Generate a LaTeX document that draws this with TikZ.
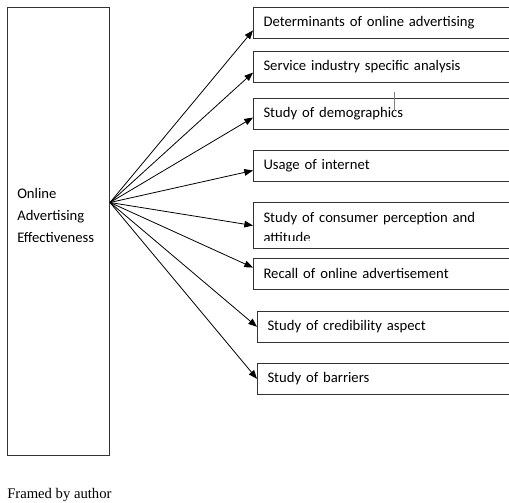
\documentclass[tikz,border=0pt]{standalone}
\usepackage{fontspec}
\setmainfont{Carlito}
\newfontfamily\timesfont{Liberation Serif}
\usepackage{tikz}
\usetikzlibrary{calc,shapes,arrows,arrows.meta}

\tikzset{
	factor/.style={draw=black!80, line width=0.75pt, anchor=north west, minimum width=240pt, minimum height=23pt, inner xsep=7.5pt, text width=225pt, align=left, font=\fontsize{11}{15}\selectfont}
}

\begin{document}
\begin{tikzpicture}[x=0.75pt, y=-0.75pt, >={Triangle[length=6.5pt, width=5pt]}]
		\useasboundingbox (0, 0) rectangle (509, 502);

		\draw (7, 7) node[draw=black!80, line width=0.75pt, anchor=north west, minimum width=76.5pt, minimum height=336pt] (e) {};
		\draw (17, 215) node[anchor=west, align=left, inner sep=0pt, font=\fontsize{11}{16.5}\selectfont] (lbl) {Online\\Advertising\\Effectiveness};
		\coordinate (hub) at ([yshift=21.75pt]e.east);

		\draw (253, 7) node[factor] (f1) {Determinants of online advertising};
		\draw (253, 51) node[factor] (f2) {Service industry specific analysis};
		\draw (253, 98) node[factor] (f3) {Study of demographics};
		\draw (253, 150) node[factor] (f4) {Usage of internet};
		\draw (253, 202) node[factor, minimum height=34.5pt, text height=10.5pt] (f5) {Study of consumer perception and\\attitude};
		\draw (253, 258) node[factor] (f6) {Recall of online advertisement};
		\draw (257, 311) node[factor] (f7) {Study of credibility aspect};
		\draw (257, 363) node[factor] (f8) {Study of barriers};
		\fill[white] ([xshift=0.5pt, yshift=0.5pt]f5.south west) rectangle ([yshift=6pt]f5.south east);
		\draw[black!50, line width=0.75pt] (394, 92) -- (394, 111);

		\draw[->, line width=0.6pt] (hub) -- ([yshift=-5.7pt]f1.west);
		\draw[->, line width=0.6pt] (hub) -- ([yshift=-4.3pt]f2.west);
		\draw[->, line width=0.6pt] (hub) -- ([yshift=-2.8pt]f3.west);
		\draw[->, line width=0.6pt] (hub) -- ([yshift=-3.5pt]f4.west);
		\draw[->, line width=0.6pt] (hub) -- (f5.west);
		\draw[->, line width=0.6pt] (hub) -- ([yshift=4.7pt]f6.west);
		\draw[->, line width=0.6pt] (hub) -- (f7.west);
		\draw[->, line width=0.6pt] (hub) -- (f8.west);

		\draw (7, 498) node[anchor=base west, inner sep=0pt, font=\timesfont\fontsize{11}{13}\selectfont] (src) {Framed by author};
\end{tikzpicture}
\end{document}
